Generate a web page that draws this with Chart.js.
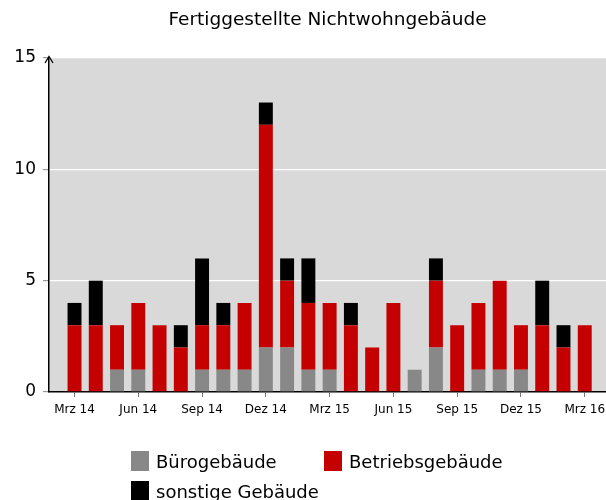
<!DOCTYPE html>
<html>
<head>
<meta charset="utf-8">
<script src="https://cdn.jsdelivr.net/npm/chart.js@4"></script>
<style>
  body { margin: 0; background: #fff; }
  #wrap { position: relative; width: 606px; height: 500px; }
  #legende { position: absolute; left: 131px; top: 446px; font-family: "DejaVu Sans", sans-serif; font-size: 18px; color: #000; }
  .zeile { display: flex; height: 30px; align-items: center; }
  .eintrag { display: flex; align-items: center; }
  .eintrag.breit { width: 193px; }
  .kasten { width: 18px; height: 20px; margin-right: 7px; }
</style>
</head>
<body>
<div id="wrap">
  <canvas id="grafik" width="606" height="500"></canvas>
  <div id="legende">
    <div class="zeile">
      <div class="eintrag breit"><span class="kasten" style="background:#888888"></span>Bürogebäude</div>
      <div class="eintrag"><span class="kasten" style="background:#c40000"></span>Betriebsgebäude</div>
    </div>
    <div class="zeile">
      <div class="eintrag"><span class="kasten" style="background:#000000"></span>sonstige Gebäude</div>
    </div>
  </div>
</div>
<script>
const monate = ["Mrz 14", "Apr 14", "Mai 14", "Jun 14", "Jul 14", "Aug 14", "Sep 14", "Okt 14", "Nov 14", "Dez 14", "Jan 15", "Feb 15",
  "Mrz 15", "Apr 15", "Mai 15", "Jun 15", "Jul 15", "Aug 15", "Sep 15", "Okt 15", "Nov 15", "Dez 15", "Jan 16", "Feb 16", "Mrz 16"];
const buero    = [0, 0, 1, 1, 0, 0, 1, 1, 1, 2, 2, 1, 1, 0, 0, 0, 1, 2, 0, 1, 1, 1, 0, 0, 0];
const betrieb  = [3, 3, 2, 3, 3, 2, 2, 2, 3, 10, 3, 3, 3, 3, 2, 4, 0, 3, 3, 3, 4, 2, 3, 2, 3];
const sonstige = [1, 2, 0, 0, 0, 1, 3, 1, 0, 1, 1, 2, 0, 1, 0, 0, 0, 1, 0, 0, 0, 0, 2, 1, 0];
const xTicks = [0, 3, 6, 9, 12, 15, 18, 21, 24];
const yTicks = [0, 5, 10, 15];

const schrift = "'DejaVu Sans', sans-serif";

function punkte(werte) {
  return werte.map((v, i) => ({ x: i, y: v }));
}

// grauer Hintergrund der Zeichenfläche
const hintergrund = {
  id: "hintergrund",
  beforeDraw(chart) {
    const { ctx, chartArea: a } = chart;
    ctx.save();
    ctx.fillStyle = "#d9d9d9";
    ctx.fillRect(a.left, a.top, a.right - a.left, a.bottom - a.top);
    ctx.restore();
  },
};

// Pfeilspitze oben an der y-Achse
const pfeil = {
  id: "pfeil",
  afterDraw(chart) {
    const { ctx, chartArea: a } = chart;
    ctx.save();
    ctx.strokeStyle = "#000";
    ctx.lineWidth = 1.3;
    ctx.beginPath();
    ctx.moveTo(a.left - 4, a.top + 5);
    ctx.lineTo(a.left, a.top - 1.5);
    ctx.lineTo(a.left + 4, a.top + 5);
    ctx.stroke();
    ctx.restore();
  },
};

new Chart(document.getElementById("grafik"), {
  type: "bar",
  data: {
    datasets: [
      { label: "Bürogebäude", data: punkte(buero), backgroundColor: "#888888" },
      { label: "Betriebsgebäude", data: punkte(betrieb), backgroundColor: "#c40000" },
      { label: "sonstige Gebäude", data: punkte(sonstige), backgroundColor: "#000000" },
    ],
  },
  options: {
    responsive: false,
    animation: false,
    barPercentage: 0.82,
    categoryPercentage: 0.8,
    layout: { padding: { left: 0, right: 0, top: 0, bottom: 68 } },
    plugins: {
      legend: { display: false },
      tooltip: { enabled: false },
      title: {
        display: true,
        fullSize: false,
        text: "Fertiggestellte Nichtwohngebäude",
        color: "#000",
        font: { family: schrift, size: 18.5, weight: "normal" },
        lineHeight: 1.2,
        padding: { top: 9, bottom: 26.8 },
      },
    },
    scales: {
      x: {
        type: "linear",
        stacked: true,
        offset: false,
        min: -1.2,
        max: 25,
        afterBuildTicks: (s) => { s.ticks = xTicks.map((v) => ({ value: v })); },
        afterFit: (s) => { s.height = 40; s.paddingLeft = 0; s.paddingRight = 0; },
        grid: { offset: false, drawOnChartArea: false, drawTicks: true, tickLength: 5, tickColor: "#777", tickWidth: 1 },
        border: { color: "#000", width: 1.5 },
        ticks: {
          autoSkip: false,
          maxRotation: 0,
          padding: 6,
          color: "#000",
          font: { family: schrift, size: 12 },
          callback: (v) => monate[v],
        },
      },
      y: {
        stacked: true,
        min: 0,
        max: 15,
        afterBuildTicks: (s) => { s.ticks = yTicks.map((v) => ({ value: v })); },
        afterFit: (s) => { s.width = 49; s.paddingTop = 0; s.paddingBottom = 0; },
        grid: { color: "#ffffff", lineWidth: 1.3, tickLength: 6, tickColor: "#888", tickWidth: 1 },
        border: { color: "#000", width: 1.5 },
        ticks: {
          padding: 7,
          color: "#000",
          font: { family: schrift, size: 17 },
        },
      },
    },
  },
  plugins: [hintergrund, pfeil],
});
</script>
</body>
</html>
